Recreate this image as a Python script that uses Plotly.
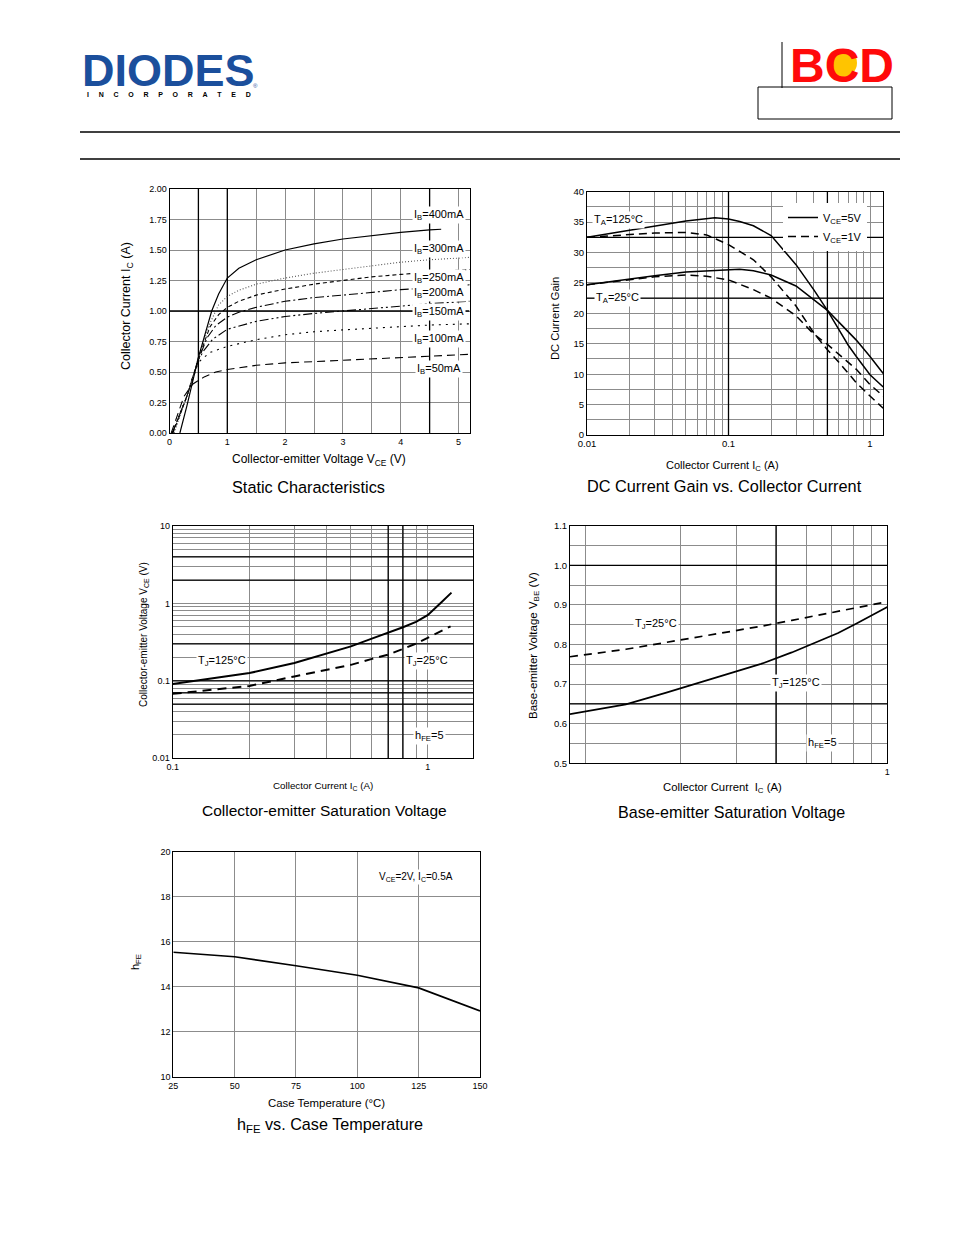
import plotly.graph_objects as go

W, H = 954, 1235

# ---------------- data ----------------
# Static characteristics: Ic (A) vs Vce (V) for several Ib
vce_400 = [0.18, 0.3, 0.5, 0.62, 0.73, 0.85, 1.0, 1.2, 1.5, 2.0, 2.5, 3.0, 3.5, 4.0, 4.5, 4.7]
ic_400 = [0.0, 0.22, 0.62, 0.82, 1.0, 1.14, 1.27, 1.35, 1.42, 1.50, 1.55, 1.59, 1.62, 1.645, 1.665, 1.67]
vce_300 = [0.08, 0.3, 0.5, 0.7, 0.85, 1.0, 1.2, 1.5, 2.0, 2.5, 3.0, 3.5, 4.0, 4.5, 5.2]
ic_300 = [0.0, 0.3, 0.62, 0.9, 1.05, 1.12, 1.17, 1.22, 1.27, 1.31, 1.34, 1.37, 1.40, 1.42, 1.44]
vce_250 = [0.06, 0.3, 0.5, 0.7, 0.85, 1.0, 1.2, 1.5, 2.0, 2.5, 3.0, 3.5, 4.0, 4.5, 5.2]
ic_250 = [0.0, 0.3, 0.61, 0.87, 0.97, 1.03, 1.08, 1.13, 1.18, 1.22, 1.25, 1.28, 1.30, 1.32, 1.34]
vce_200 = [0.05, 0.3, 0.5, 0.65, 0.8, 1.0, 1.2, 1.5, 2.0, 2.5, 3.0, 3.5, 4.0, 4.5, 5.2]
ic_200 = [0.0, 0.3, 0.6, 0.78, 0.88, 0.95, 0.99, 1.03, 1.08, 1.11, 1.13, 1.155, 1.175, 1.19, 1.215]
vce_150 = [0.05, 0.3, 0.5, 0.6, 0.75, 1.0, 1.5, 2.0, 2.5, 3.0, 3.5, 4.0, 4.5, 5.2]
ic_150 = [0.0, 0.3, 0.6, 0.68, 0.77, 0.85, 0.915, 0.955, 0.98, 1.0, 1.02, 1.04, 1.06, 1.08]
vce_100 = [0.05, 0.3, 0.5, 0.7, 1.0, 1.5, 2.0, 2.5, 3.0, 3.5, 4.0, 4.5, 5.2]
ic_100 = [0.0, 0.3, 0.58, 0.66, 0.71, 0.765, 0.805, 0.83, 0.845, 0.86, 0.875, 0.885, 0.895]
vce_50 = [0.03, 0.25, 0.4, 0.5, 0.6, 0.8, 1.0, 1.5, 2.0, 2.5, 3.0, 3.5, 4.0, 4.5, 5.2]
ic_50 = [0.0, 0.3, 0.4, 0.43, 0.46, 0.5, 0.52, 0.555, 0.575, 0.585, 0.595, 0.605, 0.62, 0.63, 0.645]
ib_labels = ["400", "300", "250", "200", "150", "100", "50"]
ib_label_y = [1.79, 1.508, 1.27, 1.148, 0.99, 0.77, 0.525]

# DC current gain vs collector current
ic_gain = [0.01, 0.02, 0.03, 0.05, 0.08, 0.1, 0.12, 0.15, 0.2, 0.3, 0.4, 0.5, 0.6, 0.7, 0.8, 1.0, 1.24]
gain_125_5v = [32.5, 33.7, 34.4, 35.2, 35.7, 35.5, 35.1, 34.4, 32.8, 28.0, 23.9, 20.5, 17.4, 14.8, 12.9, 9.9, 7.9]
gain_25_5v = [24.7, 25.7, 26.2, 26.8, 27.1, 27.2, 27.25, 27.0, 26.3, 24.5, 22.3, 20.5, 18.6, 16.9, 15.6, 12.9, 10.1]
ic_gain_1v = [0.01, 0.02, 0.03, 0.05, 0.07, 0.1, 0.15, 0.2, 0.3, 0.4, 0.5, 0.6, 0.7, 0.8, 1.0, 1.24]
gain_125_1v = [32.5, 33.0, 33.2, 33.3, 32.9, 31.3, 28.8, 26.0, 21.2, 16.8, 14.0, 12.0, 10.2, 8.6, 6.4, 4.4]
gain_25_1v = [24.7, 25.5, 26.0, 26.3, 26.1, 25.5, 23.9, 22.5, 19.6, 16.6, 14.9, 13.3, 12.0, 10.8, 8.3, 6.4]

# Collector-emitter saturation voltage
ic_sat_125 = [0.1, 0.2, 0.3, 0.4, 0.5, 0.6, 0.7, 0.8, 0.9, 1.0, 1.13, 1.24]
vce_sat_125 = [0.091, 0.126, 0.170, 0.224, 0.279, 0.348, 0.416, 0.492, 0.578, 0.705, 1.03, 1.38]
ic_sat_25 = [0.1, 0.2, 0.3, 0.4, 0.5, 0.6, 0.7, 0.8, 0.9, 1.0, 1.23]
vce_sat_25 = [0.068, 0.086, 0.114, 0.139, 0.161, 0.191, 0.218, 0.258, 0.303, 0.359, 0.507]

# Base-emitter saturation voltage
ic_be = [0.1, 0.15, 0.2, 0.3, 0.4, 0.5, 0.6, 0.7, 0.8, 0.9, 1.0]
vbe_25 = [0.769, 0.788, 0.805, 0.828, 0.846, 0.861, 0.873, 0.884, 0.893, 0.900, 0.908]
vbe_125 = [0.624, 0.649, 0.678, 0.720, 0.751, 0.780, 0.806, 0.829, 0.853, 0.875, 0.895]

# hFE vs case temperature
temp_c = [25, 37.5, 50, 75, 100, 125, 150]
hfe_t = [15.53, 15.43, 15.33, 14.93, 14.51, 13.95, 12.92]

# ---------------- helpers ----------------
FONT = "Liberation Sans, Arial, sans-serif"
GRID = "#8c8c8c"
OX, OY = 8, 8   # page offset of the figure inside the browser window


def px(x):
    return (x - OX) / W


def py(y):
    return 1 - (y - OY) / H


def xd(l, r):
    return [px(l), px(r)]


def yd(t, b):
    return [py(b), py(t)]


def axis(size=9, **kw):
    d = dict(showline=True, mirror=True, linecolor="black", linewidth=1,
             showgrid=True, gridcolor=GRID, gridwidth=1, ticks="",
             zeroline=False, tickmode="array", fixedrange=True, automargin=False,
             tickfont=dict(family=FONT, size=size, color="black"))
    d.update(kw)
    return d


fig = go.Figure()


def line(x, y, ax, width=1.2, dash="solid", color="black", name=None, legend=False):
    fig.add_trace(go.Scatter(x=x, y=y, mode="lines", xaxis="x" + ax, yaxis="y" + ax,
                             line=dict(color=color, width=width, dash=dash),
                             name=name, showlegend=legend, hoverinfo="skip"))


def thick_grid(xs, ys, ax, xr, yr):
    for v in xs:
        line([v, v], list(yr), ax, width=1.3)
    for v in ys:
        line(list(xr), [v, v], ax, width=1.3)


# panel boxes in pixels: left, right, top, bottom
P1 = (169.5, 469.5, 189, 433)
P2 = (587, 883.3, 191.7, 435)
P3 = (172.7, 473.3, 526, 758.3)
P4 = (570, 887.3, 525.7, 763.3)
P5 = (173.3, 480, 851.7, 1076.7)

# ---------- panel 1 ----------
thick_grid([0.5, 1.0, 4.5], [1.0], "", (0, 5.19), (0, 2))
line(vce_50, ic_50, "", 1.1, "8px,5px")
line(vce_100, ic_100, "", 1.1, "2px,5px")
line(vce_150, ic_150, "", 1.1, "9px,3px,2px,3px,2px,3px")
line(vce_200, ic_200, "", 1.1, "9px,3px,2px,3px")
line(vce_250, ic_250, "", 1.1, "4px,3px")
line(vce_300, ic_300, "", 1.1, "1px,2px", color="#555555")
line(vce_400, ic_400, "", 1.2)

# ---------- panel 2 ----------
thick_grid([0.1, 0.5], [22.5, 32.5], "2", (0.01, 1.24), (0, 40))
line(ic_gain, gain_25_5v, "2", 1.5)
line(ic_gain_1v, gain_25_1v, "2", 1.5, "8px,5px")
line(ic_gain, gain_125_5v, "2", 1.5, name="V<sub>CE</sub>=5V", legend=True)
line(ic_gain_1v, gain_125_1v, "2", 1.5, "8px,5px", name="V<sub>CE</sub>=1V", legend=True)

# ---------- panel 3 ----------
thick_grid([0.7, 0.8], [0.05, 0.07, 0.1, 0.3, 2, 4], "3", (0.1, 1.51), (0.01, 10))
line(ic_sat_125, vce_sat_125, "3", 2.0)
line(ic_sat_25, vce_sat_25, "3", 2.0, "9px,6px")

# ---------- panel 4 ----------
be_grid_x = [0.1115, 0.223, 0.3345, 0.446, 0.5575, 0.669, 0.7805, 0.892]
thick_grid([0.446], [0.65, 1.0], "4", (0.1, 1.0), (0.5, 1.1))
line(ic_be, vbe_25, "4", 1.7, "8px,6px")
line(ic_be, vbe_125, "4", 1.7)

# ---------- panel 5 ----------
line(temp_c, hfe_t, "5", 1.7)

# ---------------- axes ----------------
x1v = [i * 0.5 for i in range(11)]
y1v = [i * 0.25 for i in range(9)]
dec2 = [m * 10 ** e for e in (-2, -1) for m in range(1, 10)] + [1.0]
y2v = [i * 2.5 for i in range(17)]
x3v = [m / 10 for m in range(1, 11)]
y3v = [m * 10 ** e for e in (-2, -1, 0) for m in range(1, 10)] + [10]
y4v = [0.5 + i * 0.05 for i in range(13)]

layout_axes = dict(
    xaxis=axis(domain=xd(P1[0], P1[1]), range=[0, 5.19], anchor="y",
               tickvals=x1v, ticktext=[("%d" % v) if v == int(v) else "" for v in x1v]),
    yaxis=axis(domain=yd(P1[2], P1[3]), range=[0, 2], anchor="x",
               tickvals=y1v, ticktext=["%.2f" % v for v in y1v]),
    xaxis2=axis(size=9.5, domain=xd(P2[0], P2[1]), type="log", range=[-2, 0.094], anchor="y2",
                tickvals=dec2, ticktext=[{0.01: "0.01", 0.1: "0.1", 1.0: "1"}.get(round(v, 4), "") for v in dec2]),
    yaxis2=axis(size=9.5, domain=yd(P2[2], P2[3]), range=[0, 40], anchor="x2",
                tickvals=y2v, ticktext=[("%d" % v) if v % 5 == 0 else "" for v in y2v]),
    xaxis3=axis(domain=xd(P3[0], P3[1]), type="log", range=[-1, 0.179], anchor="y3",
                tickvals=x3v, ticktext=["0.1" if i == 0 else ("1" if i == 9 else "") for i in range(10)]),
    yaxis3=axis(domain=yd(P3[2], P3[3]), type="log", range=[-2, 1], anchor="x3",
                tickvals=y3v, ticktext=[{0.01: "0.01", 0.1: "0.1", 1.0: "1", 10.0: "10"}.get(round(v, 4), "") for v in y3v]),
    xaxis4=axis(domain=xd(P4[0], P4[1]), type="log", range=[-1, 0], anchor="y4",
                tickvals=be_grid_x + [1.0], ticktext=[""] * len(be_grid_x) + ["1"]),
    yaxis4=axis(size=9.5, domain=yd(P4[2], P4[3]), range=[0.5, 1.1], anchor="x4",
                tickvals=y4v, ticktext=[("%.1f" % v) if i % 2 == 0 else "" for i, v in enumerate(y4v)]),
    xaxis5=axis(domain=xd(P5[0], P5[1]), range=[25, 150], anchor="y5",
                tickvals=[25, 50, 75, 100, 125, 150], ticktext=["25", "50", "75", "100", "125", "150"]),
    yaxis5=axis(domain=yd(P5[2], P5[3]), range=[10, 20], anchor="x5",
                tickvals=[10, 12, 14, 16, 18, 20], ticktext=["10", "12", "14", "16", "18", "20"]),
)

# ---------------- annotations ----------------
anns = []


def ptext(text, x, y, size=11, angle=0, color="black", xanchor="center"):
    anns.append(dict(text=text, x=px(x), y=py(y), xref="paper", yref="paper", showarrow=False,
                     textangle=angle, xanchor=xanchor, yanchor="middle",
                     font=dict(family=FONT, size=size, color=color)))


def dtext(text, x, y, ax, size=11):
    anns.append(dict(text=text, x=x, y=y, xref="x" + ax, yref="y" + ax, showarrow=False,
                     bgcolor="white", borderpad=1, xanchor="center", yanchor="middle",
                     font=dict(family=FONT, size=size, color="black")))


# header
ptext("<b>DIODES</b>", 168, 71, size=45, color="#1b4f9c")
ptext("<b>" + ("\u00a0" * 5).join("INCORPORATED") + "</b>", 169, 95, size=7)
ptext("®", 255, 86, size=6, color="#1b4f9c")
ptext("<b>BCD</b>", 842, 65, size=48, color="#ff0a0a")

# panel 1
for lab, yy in zip(ib_labels, ib_label_y):
    dtext("I<sub>B</sub>=%smA" % lab, 4.66, yy, "", size=11)
ptext("Collector Current I<sub>C</sub> (A)", 127, 306, size=12.5, angle=-90)
ptext("Collector-emitter Voltage V<sub>CE</sub> (V)", 319, 460, size=12)
ptext("Static Characteristics", 308, 487, size=16.3)

# panel 2
dtext("T<sub>A</sub>=125°C", -1.776, 35.3, "2", size=11)
dtext("T<sub>A</sub>=25°C", -1.788, 22.47, "2", size=11)
ptext("DC Current Gain", 555, 319, size=11.2, angle=-90)
ptext("Collector Current I<sub>C</sub> (A)", 722, 466, size=11)
ptext("DC Current Gain vs. Collector Current", 724, 486, size=16.3)

# panel 3
dtext("T<sub>J</sub>=125°C", -0.808, -0.741, "3", size=11)
dtext("T<sub>J</sub>=25°C", -0.004, -0.741, "3", size=11)
dtext("h<sub>FE</sub>=5", 0.009, -1.711, "3", size=11)
ptext("Collector-emitter Voltage V<sub>CE</sub> (V)", 144, 635, size=10, angle=-90)
ptext("Collector Current I<sub>C</sub> (A)", 323, 786, size=9.8)
ptext("Collector-emitter Saturation Voltage", 324, 810, size=15.5)

# panel 4
dtext("T<sub>J</sub>=25°C", -0.729, 0.853, "4", size=11)
dtext("T<sub>J</sub>=125°C", -0.289, 0.702, "4", size=11)
dtext("h<sub>FE</sub>=5", -0.204, 0.552, "4", size=11)
ptext("Base-emitter Voltage V<sub>BE</sub> (V)", 534, 646, size=11.5, angle=-90)
ptext("Collector Current  I<sub>C</sub> (A)", 722, 788, size=11.3)
ptext("Base-emitter Saturation Voltage", 731, 812, size=16.1)

# panel 5
dtext("V<sub>CE</sub>=2V, I<sub>C</sub>=0.5A", 123.8, 18.89, "5", size=10)
ptext("h<sub>FE</sub>", 136, 962, size=11, angle=-90)
ptext("Case Temperature (°C)", 326, 1103, size=11.4)
ptext("h<sub>FE</sub> vs. Case Temperature", 330, 1125, size=16.2)

# ---------------- header shapes ----------------
shapes = [
    dict(type="line", xref="paper", yref="paper", x0=px(782), x1=px(782), y0=py(42), y1=py(88),
         line=dict(color="black", width=1)),
    dict(type="rect", xref="paper", yref="paper", x0=px(758), x1=px(892), y0=py(119), y1=py(87),
         line=dict(color="black", width=1)),
    dict(type="line", xref="paper", yref="paper", x0=px(80), x1=px(900), y0=py(132), y1=py(132),
         line=dict(color="black", width=1.5)),
    dict(type="line", xref="paper", yref="paper", x0=px(80), x1=px(900), y0=py(159), y1=py(159),
         line=dict(color="black", width=1.5)),
    dict(type="circle", xref="paper", yref="paper", x0=px(829), x1=px(857), y0=py(77), y1=py(49),
         fillcolor="#ffc400", line=dict(width=0)),
]

fig.update_layout(
    width=W, height=H, autosize=False,
    margin=dict(l=0, r=0, t=0, b=0, pad=0, autoexpand=False),
    paper_bgcolor="white", plot_bgcolor="white",
    font=dict(family=FONT, color="black"),
    showlegend=True,
    legend=dict(x=px(783), y=py(203), xanchor="left", yanchor="top", bgcolor="white",
                font=dict(family=FONT, size=11), itemwidth=30, tracegroupgap=0),
    annotations=anns, shapes=shapes,
    **layout_axes,
)

fig.write_html("out.html")
